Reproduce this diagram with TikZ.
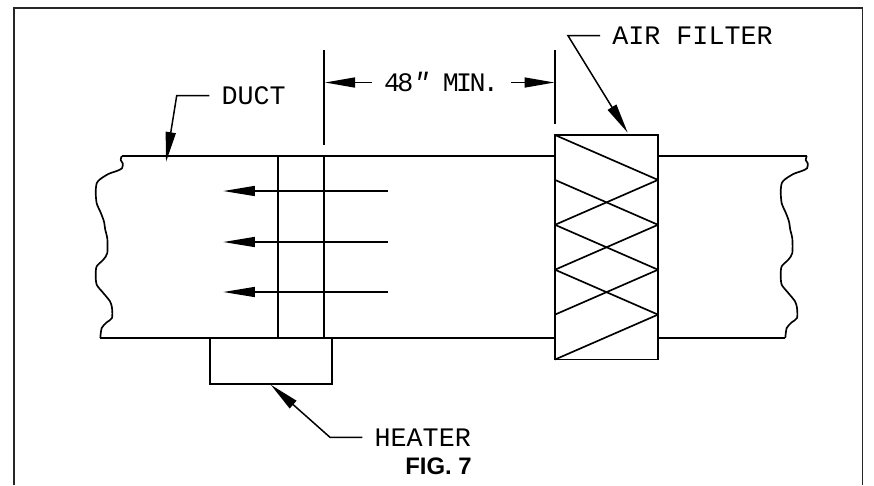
\documentclass[tikz,border=0pt]{standalone}
\usepackage{fontspec}
\setmainfont{Liberation Sans}
\newfontfamily\cadfont{Liberation Mono}
\usetikzlibrary{arrows.meta}
\tikzset{
    ductline/.style={line width=0.95pt},
    thinline/.style={line width=0.75pt},
    leadtip/.style={line width=0.85pt,-{Triangle[length=0.6cm,width=0.2cm]}},
    cadlabel/.style={inner xsep=0.24cm,inner ysep=0pt,text height=0.35cm,text depth=0pt,
        font=\cadfont\fontsize{15.2}{18}\selectfont},
    boxpart/.style={draw,line width=1pt,inner sep=0pt,fill=white}
}

\begin{document}
\begin{tikzpicture}[x=0.02cm,y=-0.02cm]
    \useasboundingbox (0,0) rectangle (874,485);
    % outer frame, open at the bottom
    \draw [line width=1pt,black!85] (14,485) -- (14,8) -- (862.5,8) -- (862.5,485);
    % duct walls and the two torn ends
    \coordinate (topleft) at (122,156);
    \coordinate (topright) at (807,156);
    \coordinate (botleft) at (100,338);
    \coordinate (botright) at (785,338);
    \draw [ductline] (topleft) -- (topright);
    \draw [ductline] (botleft) -- (botright);
    \foreach \xoff in {0,685}
        \draw [ductline,shift={(\xoff,0)}] plot [smooth,tension=0.45] coordinates {
            (121.7,156) (120.7,160) (122.7,163.3) (122,168.3) (116.7,171) (108.3,174)
            (100,179.3) (96.7,183.3) (95.7,191.7) (96.7,203.3) (101,213.3) (104,221.7)
            (105.3,230) (107.3,238.3) (107.3,253) (103.3,259.7) (96.7,266.3) (95.7,274.7)
            (96.7,284.7) (103.3,293) (110,301.3) (112,308) (112,318) (106.7,322.3)
            (101.7,328) (100.3,338)};
    % air filter
    \node [boxpart,minimum width=2.06cm,minimum height=4.49cm] (filter) at (606.5,247.3) {};
    \foreach \k [evaluate=\k as \ya using 135+44.9*\k,
                 evaluate=\k as \yb using 135+44.9*(\k+1),
                 evaluate=\k as \yc using 135+44.9*(\k+2)] in {0,...,3} {
        \draw [ductline] (555,\ya) -- (658,\yb);
        \draw [ductline] (555,\yc) -- (658,\yb);
    }
    % heater
    \node [boxpart,minimum width=2.44cm,minimum height=0.914cm] (heater) at (271,361) {};
    \draw [ductline] (278,156) -- (278,338);
    \draw [ductline] (324,156) -- (324,338);
    % air flow
    \foreach \y in {191,242,292}
        \draw [thinline,-{Triangle[length=0.63cm,width=0.2cm]}] (387.7,\y) -- (223.3,\y);
    % 48 inch dimension
    \coordinate (dimlefttop) at (324,50);
    \coordinate (dimleftbot) at (324,145);
    \coordinate (dimrighttop) at (555,50);
    \coordinate (dimrightbot) at (555,124);
    \draw [ductline] (dimlefttop) -- (dimleftbot);
    \draw [ductline] (dimrighttop) -- (dimrightbot);
    \node [cadlabel] (dimtext) at (441.5,82.5) {\addfontfeature{LetterSpace=-10}48{\itshape″} MIN.};
    \coordinate (dimlefttip) at (325,82.5);
    \coordinate (dimrighttip) at (554.5,82.5);
    \draw [leadtip] (dimtext.west) -- (dimlefttip);
    \draw [leadtip] (dimtext.east) -- (dimrighttip);
    % labels with their leaders
    \node [cadlabel,anchor=west] (ductlabel) at (209.3,95.7) {DUCT};
    \coordinate (ductknee) at (176.7,95.7);
    \coordinate (ducttip) at (166,162);
    \draw [leadtip] (ductlabel.west) -- (ductknee) -- (ducttip);
    \node [cadlabel,anchor=west] (filterlabel) at (600,35.7) {AIR FILTER};
    \coordinate (filterknee) at (568,35.7);
    \coordinate (filtertip) at (627.7,132.7);
    \draw [leadtip] (filterlabel.west) -- (filterknee) -- (filtertip);
    \node [cadlabel,anchor=west] (heaterlabel) at (362.3,437.3) {HEATER};
    \coordinate (heaterknee) at (330,437.3);
    \coordinate (heatertip) at (270.7,384.7);
    \draw [leadtip] (heaterlabel.west) -- (heaterknee) -- (heatertip);
    % caption
    \node [inner sep=0pt,font=\bfseries\fontsize{13.6}{16}\selectfont] (caption) at (438.5,466.5) {FIG. 7};
\end{tikzpicture}
\end{document}
